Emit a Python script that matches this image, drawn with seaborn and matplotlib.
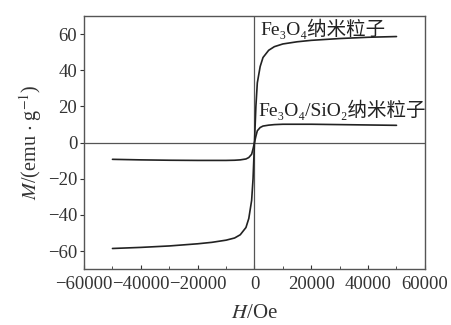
import numpy as np
import pandas as pd
import matplotlib
matplotlib.use("Agg")
import matplotlib.pyplot as plt
from matplotlib.ticker import MultipleLocator
import seaborn as sns

# field values (Oe)
field = [-50000, -40000, -30000, -20000, -15000, -10000, -7000, -5000, -3000, -2000, -1000, -500,
         0, 500, 1000, 2000, 3000, 5000, 7000, 10000, 15000, 20000, 30000, 40000, 50000]
m_fe3o4 = [-58.6, -58.0, -57.2, -56.0, -55.2, -54.0, -52.8, -51.0, -47.0, -42.0, -32.0, -20.0,
           0.0, 20.0, 33.0, 42.0, 47.0, 51.0, 53.0, 54.5, 55.7, 56.5, 57.5, 58.2, 58.6]
m_sio2 = [-9.3, -9.6, -9.8, -9.9, -9.9, -9.9, -9.8, -9.6, -9.1, -8.3, -6.5, -3.5,
          0.0, 3.5, 6.5, 8.3, 9.1, 9.6, 9.9, 10.1, 10.1, 10.1, 9.9, 9.7, 9.5]
series_names = ["Fe₃O₄纳米粒子", "Fe₃O₄/SiO₂纳米粒子"]
label_pos = [(2200, 63), (1500, 18)]

sns.set_style("ticks")
plt.rcParams["font.family"] = ["Liberation Serif", "DejaVu Serif", "Noto Sans CJK SC"]
plt.rcParams["mathtext.fontset"] = "stix"

df = pd.DataFrame({
    "H": field * 2,
    "M": m_fe3o4 + m_sio2,
    "sample": [series_names[0]] * len(field) + [series_names[1]] * len(field),
})

fig = plt.figure(figsize=(4.52, 3.25), dpi=100)
ax = fig.add_axes([0.186, 0.172, 0.754, 0.779])

ax.axhline(0, color="#555555", lw=0.9, zorder=1)
ax.axvline(0, color="#555555", lw=0.9, zorder=1)

sns.lineplot(data=df, x="H", y="M", units="sample", estimator=None,
             color="#222222", lw=1.2, ax=ax, legend=False, sort=False)

for name, (x, y) in zip(series_names, label_pos):
    ax.text(x, y, name, fontsize=14, color="#222222", ha="left", va="center")

ax.set_xlim(-60000, 60000)
ax.set_ylim(-70, 70)
ax.set_xticks(np.arange(-60000, 60001, 20000))
ax.set_yticks(np.arange(-60, 61, 20))
ax.xaxis.set_minor_locator(MultipleLocator(10000))
ax.tick_params(axis="x", which="both", direction="in", labelsize=13.5, colors="#333333", pad=5)
ax.tick_params(axis="x", which="major", length=3)
ax.tick_params(axis="x", which="minor", length=2)
ax.tick_params(axis="y", direction="out", length=3, labelsize=13.5, colors="#333333", pad=2)

ax.set_xlabel("$\\mathit{H}$/Oe", fontsize=15, color="#333333", labelpad=8)
ax.set_ylabel("$\\mathit{M}$/(emu $\\cdot$ g$^{-1}$)", fontsize=14.5, color="#333333", labelpad=3)

for s in ax.spines.values():
    s.set_color("#555555")
    s.set_linewidth(1.0)

fig.savefig("out.png", dpi=100)
